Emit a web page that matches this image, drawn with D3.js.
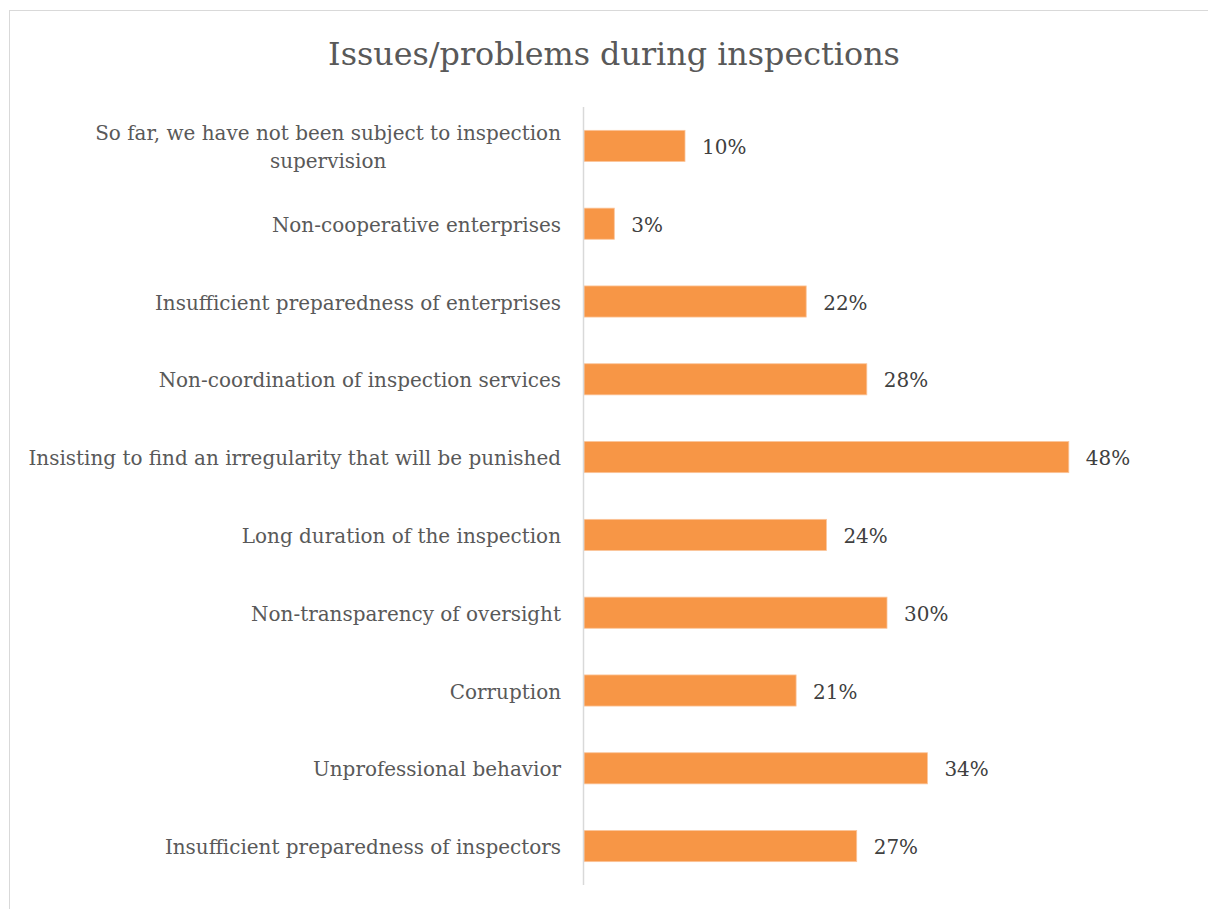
<!DOCTYPE html>
<html>
<head>
<meta charset="utf-8">
<script src="https://cdn.jsdelivr.net/npm/d3@7"></script>
<style>
  html, body { margin: 0; padding: 0; background: #ffffff; }
  svg { display: block; }
  text { font-family: "DejaVu Serif", "Liberation Serif", serif; }
</style>
</head>
<body>
<svg id="chart" width="1208" height="909"></svg>
<script>
// Survey answers, top to bottom
const categories = [
  "So far, we have not been subject to inspection supervision",
  "Non-cooperative enterprises",
  "Insufficient preparedness of enterprises",
  "Non-coordination of inspection services",
  "Insisting to find an irregularity that will be punished",
  "Long duration of the inspection",
  "Non-transparency of oversight",
  "Corruption",
  "Unprofessional behavior",
  "Insufficient preparedness of inspectors"
];
const values = [0.10, 0.03, 0.22, 0.28, 0.48, 0.24, 0.30, 0.21, 0.34, 0.27];
// Wrapped lines for long category names
const labelLines = {
  "So far, we have not been subject to inspection supervision":
    ["So far, we have not been subject to inspection", "supervision"]
};
const title = "Issues/problems during inspections";

const svg = d3.select("#chart");

// Chart frame
svg.append("rect")
  .attr("x", 9.5).attr("y", 10.5)
  .attr("width", 1220).attr("height", 920)
  .attr("fill", "#ffffff")
  .attr("stroke", "#d9d9d9").attr("stroke-width", 1);

// Font size that makes a string span a given width
function fitSize(str, width) {
  const t = svg.append("text").attr("font-size", 20).text(str);
  const w = t.node().getComputedTextLength();
  t.remove();
  return 20 * width / w;
}
const labelSize = fitSize("Insisting to find an irregularity that will be punished", 533);
const titleSize = fitSize(title, 572);

svg.append("text")
  .attr("x", 614).attr("y", 65)
  .attr("text-anchor", "middle")
  .attr("font-size", titleSize)
  .attr("fill", "#595959")
  .text(title);

const x0 = 584;
const x = d3.scaleLinear().domain([0, 0.5]).range([x0, x0 + 505]);
const y = d3.scaleBand().domain(categories).range([107, 885]).paddingInner(0.6).paddingOuter(0.3);

const g = svg.append("g");

g.selectAll("rect.bar")
  .data(categories)
  .join("rect")
  .attr("class", "bar")
  .attr("x", x(0))
  .attr("y", d => y(d))
  .attr("width", (d, i) => x(values[i]) - x(0))
  .attr("height", y.bandwidth())
  .attr("fill", "#f79646")
  .attr("stroke", "#fbc49a")
  .attr("stroke-width", 0.8);

// Vertical category axis line
svg.append("line")
  .attr("x1", x0 - 0.5).attr("x2", x0 - 0.5)
  .attr("y1", 107).attr("y2", 885)
  .attr("stroke", "#d9d9d9").attr("stroke-width", 1.5);

// Category labels
const labels = g.selectAll("g.cat")
  .data(categories)
  .join("g")
  .attr("class", "cat")
  .attr("transform", d => `translate(561,${y(d) + y.bandwidth() / 2})`);

labels.each(function (d) {
  const lines = labelLines[d] || [d];
  const sel = d3.select(this);
  const t = sel.append("text")
    .attr("font-size", labelSize)
    .attr("fill", "#595959");
  if (lines.length === 1) {
    t.attr("text-anchor", "end").attr("y", 8).text(d);
  } else {
    // multi-line: block right-aligned, lines centered within block
    const lh = 28;
    const tmp = sel.append("text").attr("font-size", labelSize).text(lines[0]);
    const w = tmp.node().getComputedTextLength();
    tmp.remove();
    t.attr("text-anchor", "middle");
    lines.forEach((ln, k) => {
      t.append("tspan")
        .attr("x", -w / 2)
        .attr("y", 8 + (k - (lines.length - 1) / 2) * lh)
        .text(ln);
    });
  }
});

// Value labels
g.selectAll("text.val")
  .data(categories)
  .join("text")
  .attr("class", "val")
  .attr("x", (d, i) => x(values[i]) + 17)
  .attr("y", d => y(d) + y.bandwidth() / 2 + 8)
  .attr("font-size", labelSize)
  .attr("fill", "#404040")
  .text((d, i) => d3.format(".0%")(values[i]));
</script>
</body>
</html>
